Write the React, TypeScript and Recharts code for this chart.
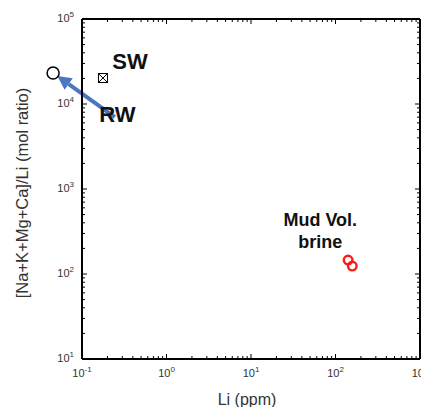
import React from "react"
import {
  ScatterChart,
  Scatter,
  XAxis,
  YAxis,
  ReferenceDot,
  ReferenceLine,
} from "recharts"

// values
const xMajor = [0.1, 1, 10, 100, 1000]
const yMajor = [10, 100, 1000, 10000, 100000]

const swPoint = [{ li: 0.177, ratio: 20200 }]
const rwPoint = { li: 0.0455, ratio: 23200 }
const brineLi = [141, 158]
const brineRatio = [146, 124]
const brinePoints = brineLi.map((li, i) => ({ li, ratio: brineRatio[i] }))

// arrow RW -> rain water end-member
const arrowFrom = { li: 0.245, ratio: 7030 }
const arrowTo = { li: 0.051, ratio: 21400 }

const annotations = [
  { text: "SW", li: 0.37, ratio: 31200, size: 22 },
  { text: "RW", li: 0.262, ratio: 7620, size: 22 },
  { text: "Mud Vol.", li: 66, ratio: 430, size: 18 },
  { text: "brine", li: 66, ratio: 236, size: 18 },
]

const withMinor = (majors: number[]) => {
  const out: number[] = []
  majors.forEach((m, i) => {
    out.push(m)
    if (i < majors.length - 1) for (let k = 2; k <= 9; k++) out.push(+(m * k).toPrecision(3))
  })
  return out
}
const xTicks = withMinor(xMajor)
const yTicks = withMinor(yMajor)

const FONT = "'Liberation Sans', Arial, sans-serif"
const INK = "#000000"
const exp10 = (v: number) => Math.round(Math.log10(v))
const isMajor = (v: number) => Math.abs(Math.log10(v) - exp10(v)) < 1e-6

const Pow = ({ v }: { v: number }) => (
  <>
    <tspan>10</tspan>
    <tspan dy={-5} fontSize={8}>
      {exp10(v)}
    </tspan>
  </>
)

const makeTick = (side: "bottom" | "left" | "top" | "right") => (props: any) => {
  const { x, y, payload } = props
  const v = payload.value
  const major = isMajor(v)
  const len = major ? 5 : 3
  if (side === "bottom")
    return (
      <g>
        <line x1={x} y1={y} x2={x} y2={y - len} stroke={INK} strokeWidth={1} />
        {major && (
          <text x={x} y={y + 18} textAnchor="middle" fontSize={11} fill="#333" fontFamily={FONT}>
            <Pow v={v} />
          </text>
        )}
      </g>
    )
  if (side === "left")
    return (
      <g>
        <line x1={x} y1={y} x2={x + len} y2={y} stroke={INK} strokeWidth={1} />
        {major && (
          <text x={x - 8} y={y + 3} textAnchor="end" fontSize={11} fill="#333" fontFamily={FONT}>
            <Pow v={v} />
          </text>
        )}
      </g>
    )
  if (side === "top")
    return <line x1={x} y1={y} x2={x} y2={y + len} stroke={INK} strokeWidth={1} />
  return <line x1={x} y1={y} x2={x - len} y2={y} stroke={INK} strokeWidth={1} />
}

const SwMarker = (props: any) => {
  const { cx, cy } = props
  const h = 4.5
  return (
    <g stroke={INK} strokeWidth={1} fill="#fff">
      <rect x={cx - h} y={cy - h} width={h * 2} height={h * 2} />
      <line x1={cx - h} y1={cy - h} x2={cx + h} y2={cy + h} />
      <line x1={cx + h} y1={cy - h} x2={cx - h} y2={cy + h} />
    </g>
  )
}

const BrineMarker = (props: any) => (
  <circle cx={props.cx} cy={props.cy} r={4.3} fill="none" stroke="#ff1a1a" strokeWidth={2.4} />
)

const Arrow = (props: any) => {
  const { x1, y1, x2, y2 } = props
  const dx = x2 - x1
  const dy = y2 - y1
  const L = Math.hypot(dx, dy)
  const ux = dx / L
  const uy = dy / L
  const head = 14
  const w = 7
  const bx = x2 - ux * head
  const by = y2 - uy * head
  const color = "#4a76c2"
  return (
    <g>
      <line x1={x1} y1={y1} x2={bx} y2={by} stroke={color} strokeWidth={4} />
      <polygon
        points={`${x2},${y2} ${bx - uy * w},${by + ux * w} ${bx + uy * w},${by - ux * w}`}
        fill={color}
      />
    </g>
  )
}

const axisLine = { stroke: INK, strokeWidth: 2 }

export default function App() {
  return (
    <ScatterChart width={421} height={399} margin={{ top: 10, right: 8, bottom: 0, left: 0 }}>
      <XAxis
        xAxisId="b"
        dataKey="li"
        type="number"
        scale="log"
        domain={[0.1, 1000]}
        allowDataOverflow
        ticks={xTicks}
        interval={0}
        tick={makeTick("bottom")}
        tickLine={false}
        tickSize={0}
        tickMargin={0}
        height={48}
        axisLine={axisLine}
        label={{
          content: (p: any) => (
            <text
              x={p.viewBox.x + p.viewBox.width / 2 - 4}
              y={p.viewBox.y + 46}
              textAnchor="middle"
              fontSize={16}
              fill="#333"
              fontFamily={FONT}
            >
              Li (ppm)
            </text>
          ),
        }}
      />
      <XAxis
        xAxisId="t"
        orientation="top"
        dataKey="li"
        type="number"
        scale="log"
        domain={[0.1, 1000]}
        allowDataOverflow
        ticks={xTicks}
        interval={0}
        tick={makeTick("top")}
        tickLine={false}
        tickSize={0}
        tickMargin={0}
        height={1}
        axisLine={axisLine}
      />
      <YAxis
        yAxisId="l"
        dataKey="ratio"
        type="number"
        scale="log"
        domain={[10, 100000]}
        allowDataOverflow
        ticks={yTicks}
        interval={0}
        tick={makeTick("left")}
        tickLine={false}
        tickSize={0}
        tickMargin={0}
        width={74}
        axisLine={axisLine}
        label={{
          content: (p: any) => {
            const cx = 14
            const cy = p.viewBox.y + p.viewBox.height / 2 + 4
            return (
              <text
                x={cx}
                y={cy}
                transform={`rotate(-90 ${cx} ${cy})`}
                textAnchor="middle"
                dominantBaseline="central"
                fontSize={16.5}
                fill="#333"
                fontFamily={FONT}
              >
                [Na+K+Mg+Ca]/Li (mol ratio)
              </text>
            )
          },
        }}
      />
      <YAxis
        yAxisId="r"
        orientation="right"
        dataKey="ratio"
        type="number"
        scale="log"
        domain={[10, 100000]}
        allowDataOverflow
        ticks={yTicks}
        interval={0}
        tick={makeTick("right")}
        tickLine={false}
        tickSize={0}
        tickMargin={0}
        width={1}
        axisLine={axisLine}
      />

      <Scatter xAxisId="b" yAxisId="l" data={swPoint} shape={SwMarker} isAnimationActive={false} />
      <Scatter xAxisId="b" yAxisId="l" data={brinePoints} shape={BrineMarker} isAnimationActive={false} />

      <ReferenceLine
        xAxisId="b"
        yAxisId="l"
        ifOverflow="visible"
        segment={[
          { x: arrowFrom.li, y: arrowFrom.ratio },
          { x: arrowTo.li, y: arrowTo.ratio },
        ]}
        shape={Arrow}
      />
      <ReferenceDot
        xAxisId="b"
        yAxisId="l"
        x={rwPoint.li}
        y={rwPoint.ratio}
        r={6}
        fill="#fff"
        stroke={INK}
        strokeWidth={1.5}
        ifOverflow="visible"
      />
      {annotations.map((a) => (
        <ReferenceDot
          key={a.text}
          xAxisId="b"
          yAxisId="l"
          x={a.li}
          y={a.ratio}
          r={0}
          ifOverflow="visible"
          shape={(p: any) => (
            <text
              x={p.cx}
              y={p.cy}
              textAnchor="middle"
              dominantBaseline="central"
              fontSize={a.size}
              fontWeight="bold"
              fill="#111"
              fontFamily={FONT}
            >
              {a.text}
            </text>
          )}
        />
      ))}
    </ScatterChart>
  )
}
